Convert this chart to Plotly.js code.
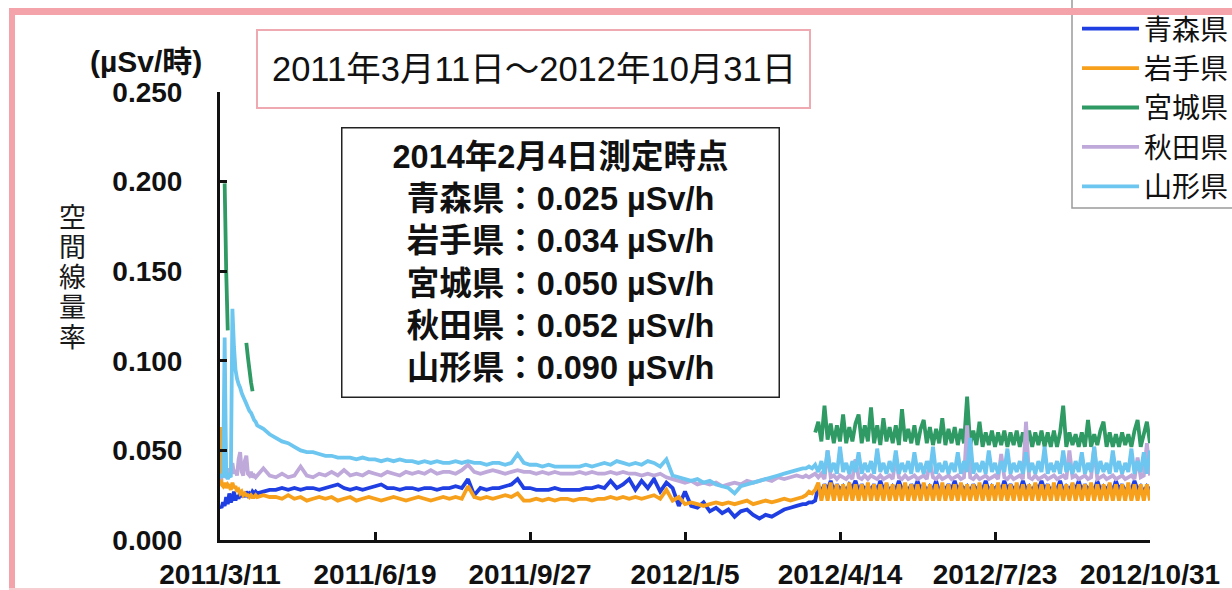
<!DOCTYPE html>
<html>
<head>
<meta charset="utf-8">
<script src="https://cdn.plot.ly/plotly-3.0.1.min.js"></script>
<style>
html,body{margin:0;padding:0;background:#fff;}
#chart{width:1232px;height:590px;}
</style>
</head>
<body>
<div id="chart"></div>
<script>
// ---------------- data ----------------
const prefectures = ['青森県', '岩手県', '宮城県', '秋田県', '山形県'];
const lineColors = ['#1f3fe3', '#f7a01c', '#2f9a64', '#bea9da', '#6cc6ef'];

const tickDates = ['2011-03-11', '2011-06-19', '2011-09-27', '2012-01-05', '2012-04-14', '2012-07-23', '2012-10-31'];
const tickLabels = ['2011/3/11', '2011/6/19', '2011/9/27', '2012/1/5', '2012/4/14', '2012/7/23', '2012/10/31'];
const yTicks = [0, 0.05, 0.10, 0.15, 0.20, 0.25];
const yTickLabels = ['0.000', '0.050', '0.100', '0.150', '0.200', '0.250'];

const periodTitle = '2011年3月11日～2012年10月31日';
const noteLines = ['2014年2月4日測定時点', '青森県：0.025 µSv/h', '岩手県：0.034 µSv/h', '宮城県：0.050 µSv/h', '秋田県：0.052 µSv/h', '山形県：0.090 µSv/h'];
const unitLabel = '(µSv/時)';
const yTitleChars = ['空', '間', '線', '量', '率'];

// sampling grid (days after 2011-03-11)
const START_UTC = Date.UTC(2011, 2, 11);
function dayRange(a, b, s) { const r = []; for (let d = a; d <= b; d += s) r.push(d); return r; }
const earlyDays = dayRange(0, 24, 1);     // daily
const midDays = dayRange(28, 376, 4);     // every 4 days
const lateDays = dayRange(378, 600, 2);   // every 2 days

// 青森県
const aomoriEarly = [0.019, 0.018, 0.021, 0.019, 0.024, 0.020, 0.026, 0.021, 0.023, 0.027,
  0.022, 0.025, 0.023, 0.027, 0.024, 0.026, 0.024, 0.027, 0.025, 0.026,
  0.025, 0.027, 0.026, 0.027, 0.026];
const aomoriMid = [0.027, 0.028, 0.028, 0.029, 0.028, 0.029, 0.028, 0.029, 0.029, 0.028,
  0.029, 0.030, 0.031, 0.029, 0.028, 0.029, 0.028, 0.029, 0.030, 0.031,
  0.029, 0.029, 0.028, 0.029, 0.029, 0.028, 0.029, 0.029, 0.028, 0.029,
  0.029, 0.030, 0.029, 0.034, 0.025, 0.029, 0.028, 0.029, 0.029, 0.030,
  0.031, 0.034, 0.029, 0.029, 0.028, 0.028, 0.028, 0.029, 0.028, 0.028,
  0.028, 0.028, 0.029, 0.029, 0.030, 0.029, 0.033, 0.029, 0.031, 0.034,
  0.028, 0.033, 0.029, 0.034, 0.027, 0.032, 0.029, 0.019, 0.027, 0.019,
  0.018, 0.021, 0.016, 0.018, 0.015, 0.017, 0.013, 0.016, 0.017, 0.014,
  0.012, 0.014, 0.013, 0.015, 0.017, 0.018, 0.019, 0.020];
const aomoriLate = [0.020, 0.021, 0.021, 0.022, 0.030, 0.027, 0.031, 0.028, 0.033, 0.027,
  0.031, 0.028, 0.030, 0.027, 0.031, 0.029, 0.033, 0.027, 0.031, 0.028,
  0.030, 0.028, 0.031, 0.027, 0.033, 0.028, 0.031, 0.027, 0.030, 0.028,
  0.033, 0.028, 0.030, 0.027, 0.031, 0.028, 0.033, 0.028, 0.031, 0.027,
  0.030, 0.028, 0.033, 0.027, 0.030, 0.028, 0.031, 0.028, 0.033, 0.027,
  0.031, 0.028, 0.030, 0.027, 0.031, 0.028, 0.030, 0.028, 0.033, 0.027,
  0.030, 0.028, 0.031, 0.027, 0.033, 0.028, 0.031, 0.028, 0.030, 0.027,
  0.033, 0.028, 0.030, 0.027, 0.031, 0.028, 0.033, 0.028, 0.031, 0.027,
  0.030, 0.028, 0.033, 0.027, 0.030, 0.028, 0.031, 0.028, 0.033, 0.027,
  0.031, 0.028, 0.030, 0.027, 0.033, 0.028, 0.030, 0.028, 0.031, 0.027,
  0.033, 0.028, 0.031, 0.027, 0.030, 0.028, 0.033, 0.028, 0.030, 0.027,
  0.030, 0.028];

// 岩手県
const iwateEarly = [0.063, 0.031, 0.030, 0.032, 0.029, 0.031, 0.030, 0.028, 0.032, 0.029,
  0.030, 0.027, 0.028, 0.026, 0.027, 0.025, 0.026, 0.025, 0.025, 0.024,
  0.025, 0.024, 0.024, 0.025, 0.024];
const iwateMid = [0.025, 0.024, 0.024, 0.023, 0.025, 0.023, 0.024, 0.022, 0.023, 0.024,
  0.023, 0.024, 0.022, 0.023, 0.024, 0.022, 0.023, 0.024, 0.023, 0.022,
  0.023, 0.024, 0.023, 0.022, 0.023, 0.024, 0.023, 0.022, 0.023, 0.024,
  0.023, 0.024, 0.023, 0.030, 0.024, 0.023, 0.024, 0.023, 0.024, 0.025,
  0.024, 0.026, 0.022, 0.022, 0.023, 0.022, 0.023, 0.022, 0.023, 0.023,
  0.022, 0.023, 0.023, 0.022, 0.023, 0.023, 0.024, 0.023, 0.024, 0.023,
  0.024, 0.023, 0.024, 0.025, 0.023, 0.028, 0.022, 0.024, 0.020, 0.021,
  0.020, 0.019, 0.020, 0.021, 0.020, 0.021, 0.020, 0.021, 0.022, 0.020,
  0.021, 0.022, 0.021, 0.022, 0.023, 0.022, 0.023, 0.024];
const iwateLate = [0.025, 0.027, 0.026, 0.028, 0.032, 0.022, 0.031, 0.022, 0.032, 0.022,
  0.031, 0.022, 0.031, 0.022, 0.032, 0.022, 0.031, 0.022, 0.031, 0.022,
  0.032, 0.022, 0.031, 0.022, 0.031, 0.022, 0.032, 0.022, 0.031, 0.022,
  0.031, 0.022, 0.032, 0.022, 0.031, 0.022, 0.031, 0.022, 0.032, 0.022,
  0.031, 0.022, 0.031, 0.022, 0.032, 0.022, 0.031, 0.022, 0.031, 0.022,
  0.032, 0.022, 0.031, 0.022, 0.031, 0.022, 0.032, 0.022, 0.031, 0.022,
  0.031, 0.022, 0.032, 0.022, 0.031, 0.022, 0.031, 0.022, 0.032, 0.022,
  0.031, 0.022, 0.031, 0.022, 0.032, 0.022, 0.031, 0.022, 0.031, 0.022,
  0.032, 0.022, 0.031, 0.022, 0.031, 0.022, 0.032, 0.022, 0.031, 0.022,
  0.031, 0.022, 0.032, 0.022, 0.031, 0.022, 0.031, 0.022, 0.032, 0.022,
  0.031, 0.022, 0.031, 0.022, 0.032, 0.022, 0.031, 0.022, 0.031, 0.022,
  0.031, 0.022];

// 宮城県 (early readings, then a long gap)
const miyagiEarlyDays = [3, 4, 5, 6, 17, 18, 19, 20, 21, 22];
const miyagiEarly = [0.199, 0.150, 0.117, null, 0.110, 0.102, 0.095, 0.088, 0.083, null];
const miyagiLate = [null, null, null, 0.060, 0.066, 0.055, 0.075, 0.056, 0.065, 0.054,
  0.064, 0.055, 0.070, 0.054, 0.063, 0.055, 0.065, 0.070, 0.054, 0.064,
  0.055, 0.074, 0.054, 0.064, 0.053, 0.068, 0.055, 0.063, 0.054, 0.064,
  0.053, 0.073, 0.055, 0.062, 0.054, 0.064, 0.053, 0.062, 0.067, 0.054,
  0.063, 0.053, 0.062, 0.054, 0.068, 0.053, 0.062, 0.054, 0.063, 0.053,
  0.062, 0.054, 0.080, 0.053, 0.061, 0.053, 0.066, 0.052, 0.060, 0.053,
  0.061, 0.052, 0.060, 0.053, 0.061, 0.052, 0.060, 0.053, 0.061, 0.052,
  0.060, 0.053, 0.061, 0.052, 0.060, 0.053, 0.061, 0.052, 0.060, 0.052,
  0.061, 0.052, 0.060, 0.075, 0.052, 0.060, 0.053, 0.059, 0.052, 0.060,
  0.052, 0.067, 0.052, 0.059, 0.053, 0.061, 0.066, 0.052, 0.060, 0.052,
  0.059, 0.052, 0.060, 0.053, 0.059, 0.052, 0.061, 0.067, 0.052, 0.059,
  0.066, 0.054];

// 秋田県
const akitaEarly = [0.036, 0.035, 0.037, 0.036, 0.038, 0.036, 0.040, 0.037, 0.043, 0.037,
  0.039, 0.036, 0.045, 0.049, 0.038, 0.036, 0.044, 0.047, 0.037, 0.036,
  0.038, 0.035, 0.036, 0.035, 0.036];
const akitaMid = [0.040, 0.036, 0.035, 0.037, 0.035, 0.036, 0.041, 0.036, 0.035, 0.037,
  0.036, 0.038, 0.036, 0.039, 0.036, 0.037, 0.036, 0.038, 0.037, 0.036,
  0.038, 0.037, 0.036, 0.038, 0.037, 0.038, 0.037, 0.039, 0.037, 0.038,
  0.038, 0.037, 0.039, 0.042, 0.038, 0.037, 0.038, 0.039, 0.038, 0.037,
  0.038, 0.039, 0.038, 0.038, 0.037, 0.038, 0.037, 0.038, 0.037, 0.037,
  0.037, 0.038, 0.037, 0.038, 0.037, 0.037, 0.038, 0.037, 0.038, 0.037,
  0.037, 0.036, 0.037, 0.036, 0.037, 0.035, 0.034, 0.033, 0.032, 0.033,
  0.031, 0.032, 0.031, 0.032, 0.030, 0.031, 0.032, 0.031, 0.033, 0.032,
  0.033, 0.034, 0.033, 0.035, 0.034, 0.035, 0.036, 0.035];
const akitaLate = [0.036, 0.035, 0.036, 0.037, 0.035, 0.037, 0.034, 0.050, 0.035, 0.036,
  0.034, 0.036, 0.035, 0.034, 0.036, 0.034, 0.045, 0.035, 0.034, 0.036,
  0.034, 0.036, 0.035, 0.034, 0.036, 0.034, 0.035, 0.036, 0.034, 0.046,
  0.035, 0.034, 0.036, 0.034, 0.035, 0.036, 0.034, 0.035, 0.036, 0.034,
  0.044, 0.035, 0.034, 0.036, 0.034, 0.035, 0.036, 0.034, 0.035, 0.036,
  0.034, 0.035, 0.064, 0.035, 0.034, 0.036, 0.034, 0.035, 0.036, 0.034,
  0.035, 0.036, 0.034, 0.048, 0.035, 0.034, 0.036, 0.034, 0.035, 0.036,
  0.034, 0.066, 0.035, 0.034, 0.036, 0.034, 0.035, 0.036, 0.034, 0.035,
  0.036, 0.034, 0.035, 0.036, 0.034, 0.050, 0.035, 0.036, 0.034, 0.035,
  0.036, 0.034, 0.035, 0.052, 0.034, 0.035, 0.036, 0.034, 0.035, 0.036,
  0.034, 0.035, 0.036, 0.034, 0.035, 0.036, 0.034, 0.046, 0.035, 0.036,
  0.054, 0.036];

// 山形県
const yamagataEarly = [0.035, 0.036, 0.035, 0.113, 0.036, 0.034, 0.036, 0.035, 0.129, 0.108,
  0.095, 0.090, 0.087, 0.085, 0.082, 0.080, 0.078, 0.076, 0.074, 0.072,
  0.071, 0.069, 0.067, 0.066, 0.064];
const yamagataMid = [0.062, 0.059, 0.057, 0.055, 0.054, 0.052, 0.050, 0.049, 0.049, 0.048,
  0.047, 0.047, 0.046, 0.046, 0.046, 0.045, 0.046, 0.045, 0.045, 0.044,
  0.045, 0.044, 0.045, 0.044, 0.044, 0.043, 0.044, 0.043, 0.044, 0.043,
  0.043, 0.044, 0.043, 0.044, 0.043, 0.043, 0.042, 0.043, 0.043, 0.042,
  0.043, 0.048, 0.043, 0.042, 0.042, 0.041, 0.042, 0.041, 0.041, 0.041,
  0.041, 0.041, 0.042, 0.041, 0.042, 0.043, 0.042, 0.044, 0.043, 0.042,
  0.043, 0.042, 0.044, 0.043, 0.041, 0.045, 0.036, 0.035, 0.034, 0.033,
  0.034, 0.032, 0.033, 0.031, 0.030, 0.029, 0.026, 0.030, 0.031, 0.032,
  0.033, 0.034, 0.035, 0.036, 0.037, 0.038, 0.039, 0.040];
const yamagataLate = [0.040, 0.041, 0.040, 0.042, 0.038, 0.044, 0.037, 0.050, 0.038, 0.043,
  0.037, 0.052, 0.038, 0.043, 0.037, 0.044, 0.038, 0.049, 0.037, 0.043,
  0.038, 0.044, 0.037, 0.051, 0.038, 0.043, 0.037, 0.044, 0.038, 0.050,
  0.037, 0.043, 0.038, 0.044, 0.037, 0.049, 0.038, 0.043, 0.037, 0.044,
  0.038, 0.052, 0.037, 0.043, 0.038, 0.044, 0.037, 0.043, 0.038, 0.049,
  0.037, 0.044, 0.038, 0.057, 0.037, 0.043, 0.038, 0.044, 0.037, 0.050,
  0.038, 0.043, 0.037, 0.044, 0.038, 0.051, 0.037, 0.043, 0.038, 0.044,
  0.037, 0.049, 0.038, 0.043, 0.037, 0.044, 0.038, 0.052, 0.037, 0.043,
  0.038, 0.044, 0.037, 0.050, 0.038, 0.043, 0.037, 0.044, 0.038, 0.049,
  0.037, 0.043, 0.038, 0.052, 0.037, 0.044, 0.038, 0.043, 0.037, 0.050,
  0.038, 0.044, 0.037, 0.043, 0.038, 0.051, 0.037, 0.044, 0.038, 0.049,
  0.037, 0.050];

// ---------------- build ----------------
function dayToDate(d) { return new Date(START_UTC + d * 86400000).toISOString().slice(0, 10); }
function buildSeries(parts) {
  const x = [], y = [];
  parts.forEach(function (p) {
    const days = p[0], vals = p[1];
    const n = Math.min(days.length, vals.length);
    for (let i = 0; i < n; i++) { x.push(dayToDate(days[i])); y.push(vals[i]); }
  });
  return { x: x, y: y };
}
const seriesParts = [
  [[earlyDays, aomoriEarly], [midDays, aomoriMid], [lateDays, aomoriLate]],
  [[earlyDays, iwateEarly], [midDays, iwateMid], [lateDays, iwateLate]],
  [[miyagiEarlyDays, miyagiEarly], [lateDays, miyagiLate]],
  [[earlyDays, akitaEarly], [midDays, akitaMid], [lateDays, akitaLate]],
  [[earlyDays, yamagataEarly], [midDays, yamagataMid], [lateDays, yamagataLate]]
];
const traces = seriesParts.map(function (parts, i) {
  const s = buildSeries(parts);
  return {
    type: 'scatter', mode: 'lines', name: prefectures[i], x: s.x, y: s.y,
    line: { color: lineColors[i], width: 3.8, simplify: false }, connectgaps: false
  };
});

// pixel -> paper helpers (plot area 220..1150 x 92..540)
const PL = 220, PR = 1150, PT = 92, PB = 540;
function px(X) { return (X - PL) / (PR - PL); }
function py(Y) { return (PB - Y) / (PB - PT); }

const FONT = '"Liberation Sans", Arial, "Noto Sans CJK JP", sans-serif';
const PINK = '#f4a3aa';

const layout = {
  width: 1232, height: 590,
  margin: { l: PL, r: 1232 - PR, t: PT, b: 590 - PB, autoexpand: false },
  paper_bgcolor: '#ffffff', plot_bgcolor: '#ffffff',
  font: { family: FONT, color: '#111' },
  showlegend: true,
  legend: {
    x: px(1077), xanchor: 'left', y: py(4), yanchor: 'top',
    bgcolor: 'rgba(0,0,0,0)', borderwidth: 0,
    font: { family: FONT, size: 28, color: '#111' },
    itemwidth: 57, traceorder: 'normal'
  },
  xaxis: {
    type: 'date', range: [tickDates[0], tickDates[tickDates.length - 1]],
    tickmode: 'array', tickvals: tickDates, ticktext: tickLabels,
    ticks: 'inside', ticklen: 8, tickwidth: 3, tickcolor: '#111',
    showline: true, linecolor: '#111', linewidth: 3,
    showgrid: false, zeroline: false,
    tickfont: { family: FONT, size: 28, weight: 'bold', color: '#111' },
    ticklabelstandoff: 7
  },
  yaxis: {
    range: [0, 0.25], tickmode: 'array', tickvals: yTicks, ticktext: yTickLabels,
    ticks: 'inside', ticklen: 7, tickwidth: 3, tickcolor: '#111',
    showline: true, linecolor: '#111', linewidth: 3,
    showgrid: false, zeroline: false,
    tickfont: { family: FONT, size: 28, weight: 'bold', color: '#111' },
    ticklabelstandoff: 29
  },
  shapes: [
    // period title box
    { type: 'rect', xref: 'paper', yref: 'paper', x0: px(257), x1: px(810), y0: py(30), y1: py(108),
      line: { color: '#efa9b0', width: 2 }, fillcolor: 'rgba(0,0,0,0)' },
    // legend frame (left and bottom edges)
    { type: 'path', xref: 'paper', yref: 'paper',
      path: 'M ' + px(1072) + ',' + py(0) + ' L ' + px(1072) + ',' + py(208) + ' L ' + px(1245) + ',' + py(208),
      line: { color: '#9a9a9a', width: 1.5 } },
    // outer pink frame
    { type: 'line', xref: 'paper', yref: 'paper', x0: px(9), x1: px(1245), y0: py(11.5), y1: py(11.5),
      line: { color: PINK, width: 7 } },
    { type: 'line', xref: 'paper', yref: 'paper', x0: px(12), x1: px(12), y0: py(8), y1: py(600),
      line: { color: PINK, width: 6 } },
    { type: 'line', xref: 'paper', yref: 'paper', x0: px(9), x1: px(1245), y0: py(589), y1: py(589),
      line: { color: '#f8cdd1', width: 2 } }
  ],
  annotations: [
    { xref: 'paper', yref: 'paper', x: px(533.5), y: py(69), xanchor: 'center', yanchor: 'middle',
      text: periodTitle, showarrow: false, font: { family: FONT, size: 34.5, color: '#111' } },
    { xref: 'paper', yref: 'paper', x: px(560.5), y: py(262), xanchor: 'center', yanchor: 'middle',
      text: noteLines.join('<br>'), showarrow: false, align: 'center', valign: 'middle',
      width: 420, height: 252, borderpad: 8, bordercolor: '#222', borderwidth: 1.5, bgcolor: '#ffffff',
      font: { family: FONT, size: 32.5, weight: 'bold', color: '#111' } },
    { xref: 'paper', yref: 'paper', x: px(146), y: py(62), xanchor: 'center', yanchor: 'middle',
      text: unitLabel, showarrow: false, font: { family: FONT, size: 30, weight: 'bold', color: '#111' } },
    { xref: 'paper', yref: 'paper', x: px(72), y: py(278), xanchor: 'center', yanchor: 'middle',
      text: yTitleChars.map(function (c) { return '<span style="font-size:27px">' + c + '</span>'; }).join('<br>'),
      showarrow: false, font: { family: FONT, size: 23, color: '#1a1a1a' } }
  ]
};

Plotly.newPlot('chart', traces, layout, { staticPlot: true, displayModeBar: false });
</script>
</body>
</html>
